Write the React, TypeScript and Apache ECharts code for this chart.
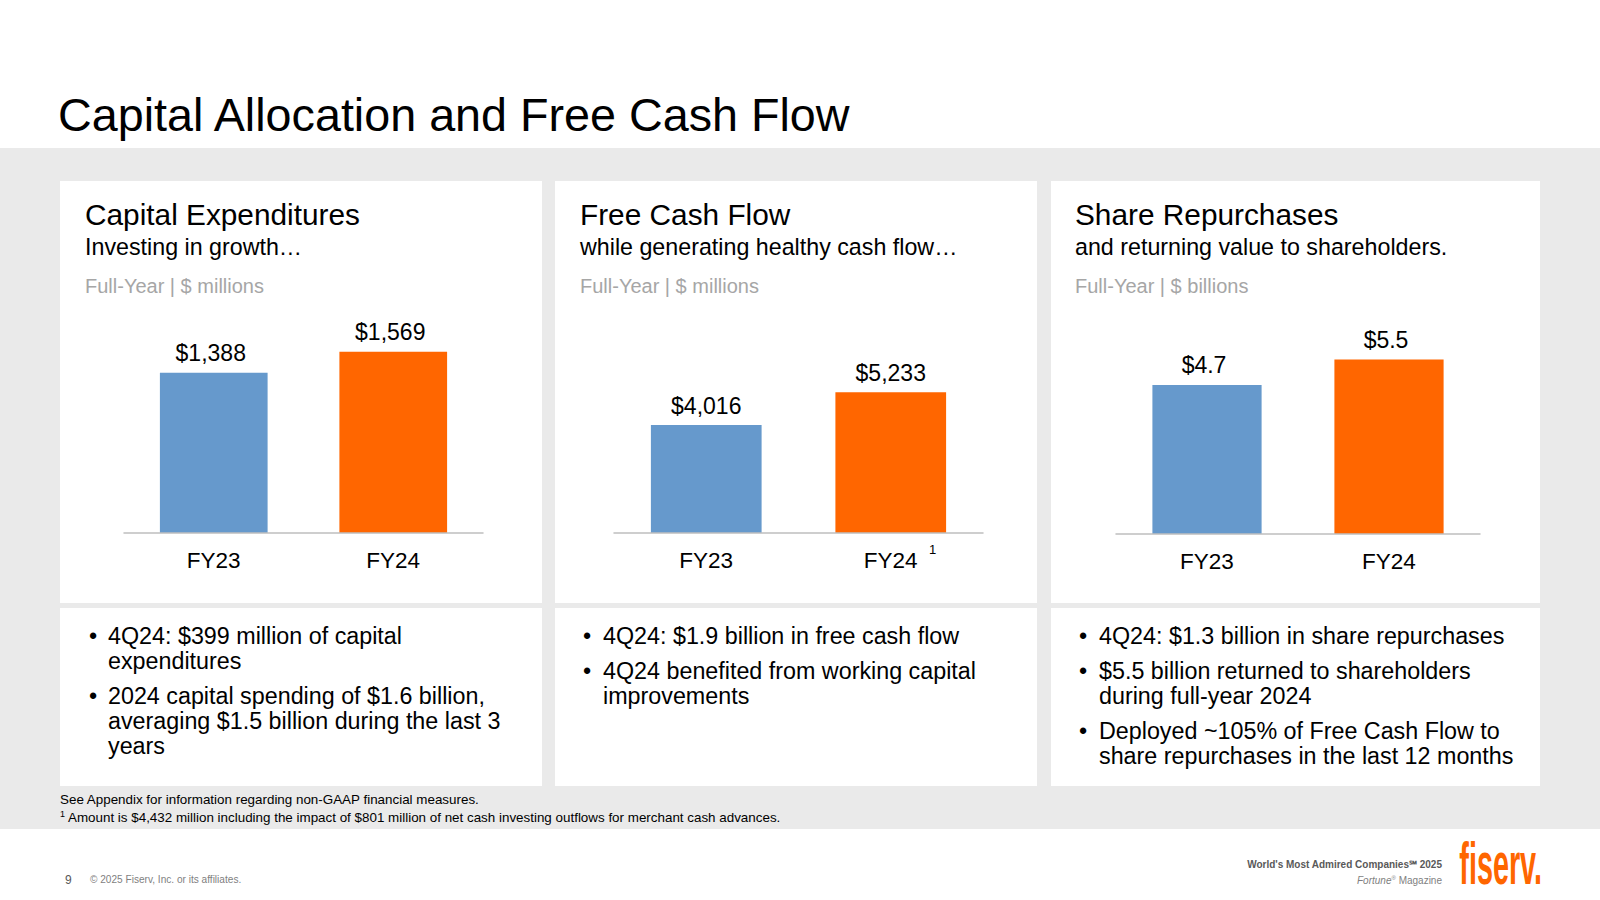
import React, { useEffect, useRef } from "react";
import * as echarts from "echarts";

// ---------- data ----------
const categories = ["FY23", "FY24"];
const capexValues = [1388, 1569];
const fcfValues = [4016, 5233];
const buybackValues = [4.7, 5.5];

const pageTitle = "Capital Allocation and Free Cash Flow";
const panelTitles = ["Capital Expenditures", "Free Cash Flow", "Share Repurchases"];
const panelSubtitles = [
  "Investing in growth…",
  "while generating healthy cash flow…",
  "and returning value to shareholders.",
];
const panelUnits = ["Full-Year | $ millions", "Full-Year | $ millions", "Full-Year | $ billions"];

const capexBullets = [
  ["4Q24: $399 million of capital", "expenditures"],
  ["2024 capital spending of $1.6 billion,", "averaging $1.5 billion during the last 3", "years"],
];
const fcfBullets = [
  ["4Q24: $1.9 billion in free cash flow"],
  ["4Q24 benefited from working capital", "improvements"],
];
const buybackBullets = [
  ["4Q24: $1.3 billion in share repurchases"],
  ["$5.5 billion returned to shareholders", "during full-year 2024"],
  ["Deployed ~105% of Free Cash Flow to", "share repurchases in the last 12 months"],
];

const footnote1 = "See Appendix for information regarding non-GAAP financial measures.";
const footnote2 = "Amount is $4,432 million including the impact of $801 million of net cash investing outflows for merchant cash advances.";
const pageNumber = "9";
const copyright = "© 2025 Fiserv, Inc. or its affiliates.";
const awardLine = "World's Most Admired Companies℠ 2025";

// ---------- styles / layout ----------
const FONT = "'Liberation Sans', Arial, Helvetica, sans-serif";
const BLUE = "#6699CC";
const ORANGE = "#FF6600";
const barColors = [BLUE, ORANGE];

const fmtMillions = (v: number) => "$" + v.toLocaleString("en-US");
const fmtBillions = (v: number) => "$" + v.toFixed(1);

const panels = [
  {
    x: 60, w: 482, textX: 85, bulletX: 89, bulletTextX: 108, labelShift: -3,
    grid: { left: 124, width: 359, top: 302, height: 231 }, max: 2000,
    values: capexValues, fmt: fmtMillions, bullets: capexBullets,
  },
  {
    x: 555, w: 482, textX: 580, bulletX: 583, bulletTextX: 603, labelShift: 0,
    grid: { left: 614, width: 369, top: 318, height: 215 }, max: 8000,
    values: fcfValues, fmt: fmtMillions, bullets: fcfBullets,
  },
  {
    x: 1051, w: 489, textX: 1075, bulletX: 1079, bulletTextX: 1099, labelShift: -3,
    grid: { left: 1116, width: 364, top: 312, height: 222 }, max: 7,
    values: buybackValues, fmt: fmtBillions, bullets: buybackBullets,
  },
];

function txt(x: number, baseline: number, text: string, fontSize: number, extra: any = {}) {
  const { style, ...rest } = extra;
  return {
    type: "text",
    x,
    y: baseline - 0.3465 * fontSize,
    z: 10,
    ...rest,
    style: {
      text,
      fontSize,
      fontFamily: FONT,
      fill: "#000",
      align: "left",
      verticalAlign: "middle",
      ...(style || {}),
    },
  };
}

export default function App() {
  const ref = useRef<HTMLDivElement>(null);

  useEffect(() => {
    if (!ref.current) return;
    const chart = echarts.init(ref.current, undefined, { renderer: "svg" });

    const graphics: any[] = [];
    // gray band
    graphics.push({ type: "rect", shape: { x: 0, y: 148, width: 1600, height: 681 }, style: { fill: "#EAEAEA" }, z: 0 });
    // page title
    graphics.push(txt(58, 131, pageTitle, 46.7));

    panels.forEach((p, i) => {
      graphics.push({ type: "rect", shape: { x: p.x, y: 181, width: p.w, height: 422 }, style: { fill: "#fff" }, z: 1 });
      graphics.push({ type: "rect", shape: { x: p.x, y: 608, width: p.w, height: 178 }, style: { fill: "#fff" }, z: 1 });
      graphics.push(txt(p.textX, 225, panelTitles[i], 29.8));
      graphics.push(txt(p.textX, 255, panelSubtitles[i], 23.25));
      graphics.push(txt(p.textX, 293, panelUnits[i], 20, { style: { fill: "#A6A6A6" } }));
      let b = 644;
      p.bullets.forEach((lines) => {
        graphics.push(txt(p.bulletX, b, "•", 23.3));
        lines.forEach((line, li) => {
          graphics.push(txt(p.bulletTextX, b, line, 23.3));
          if (li < lines.length - 1) b += 25;
        });
        b += 35;
      });
    });

    // footnote marker on FY24 free cash flow
    graphics.push(txt(929, 554, "1", 13));

    // footnotes
    graphics.push(txt(60, 804, footnote1, 13.4));
    graphics.push(txt(60, 817, "1", 9));
    graphics.push(txt(68, 822, footnote2, 13.4));

    // footer
    graphics.push(txt(65, 884, pageNumber, 12, { style: { fill: "#595959" } }));
    graphics.push(txt(90, 883, copyright, 10.1, { style: { fill: "#7F7F7F" } }));
    graphics.push(
      txt(1442, 868, awardLine, 10, { style: { fill: "#595959", fontWeight: "bold", align: "right" } })
    );
    graphics.push({
      type: "text",
      x: 1442,
      y: 880,
      z: 10,
      style: {
        text: "{i|Fortune}{r|®}{m| Magazine}",
        align: "right",
        verticalAlign: "middle",
        fill: "#7F7F7F",
        fontFamily: FONT,
        fontSize: 10,
        rich: {
          i: { fontStyle: "italic", fontSize: 10, fontFamily: FONT, fill: "#7F7F7F" },
          r: { fontSize: 6, fontFamily: FONT, fill: "#7F7F7F", verticalAlign: "top" },
          m: { fontSize: 10, fontFamily: FONT, fill: "#7F7F7F" },
        },
      },
    });
    // logo
    graphics.push({
      type: "text",
      x: 1542,
      y: 884 - 0.3465 * 60,
      scaleX: 0.48,
      z: 10,
      style: {
        text: "fiserv.",
        fontSize: 60,
        fontFamily: FONT,
        fontWeight: "bold",
        fill: ORANGE,
        align: "right",
        verticalAlign: "middle",
      },
    });

    const grids = panels.map((p) => ({
      left: p.grid.left,
      top: p.grid.top,
      width: p.grid.width,
      height: p.grid.height,
      containLabel: false,
      outerBoundsMode: "none",
    }));

    const xAxes = panels.map((p, i) => ({
      type: "category",
      gridIndex: i,
      z: 6,
      data: categories,
      axisLine: { show: true, lineStyle: { color: "#BFBFBF", width: 1.5 } },
      axisTick: { show: false },
      axisLabel: { interval: 0, margin: 16, fontSize: 22.5, color: "#000", fontFamily: FONT },
      splitLine: { show: false },
    }));

    const yAxes = panels.map((p, i) => ({
      type: "value",
      gridIndex: i,
      min: 0,
      max: p.max,
      show: false,
      splitLine: { show: false },
    }));

    const series = panels.map((p, i) => ({
      type: "bar",
      xAxisIndex: i,
      yAxisIndex: i,
      barWidth: "60%",
      data: p.values.map((v, j) => ({ value: v, itemStyle: { color: barColors[j] } })),
      label: {
        show: true,
        position: "top",
        distance: 8,
        offset: [p.labelShift, 0],
        fontSize: 23,
        color: "#000",
        fontFamily: FONT,
        formatter: (params: any) => p.fmt(params.value),
      },
      z: 5,
    }));

    chart.setOption({
      animation: false,
      backgroundColor: "#FFFFFF",
      textStyle: { fontFamily: FONT },
      grid: grids,
      xAxis: xAxes,
      yAxis: yAxes,
      series,
      graphic: { elements: graphics },
    });

    return () => chart.dispose();
  }, []);

  return (
    <div
      ref={ref}
      style={{ position: "fixed", left: 0, top: 0, width: 1600, height: 900 }}
    />
  );
}
